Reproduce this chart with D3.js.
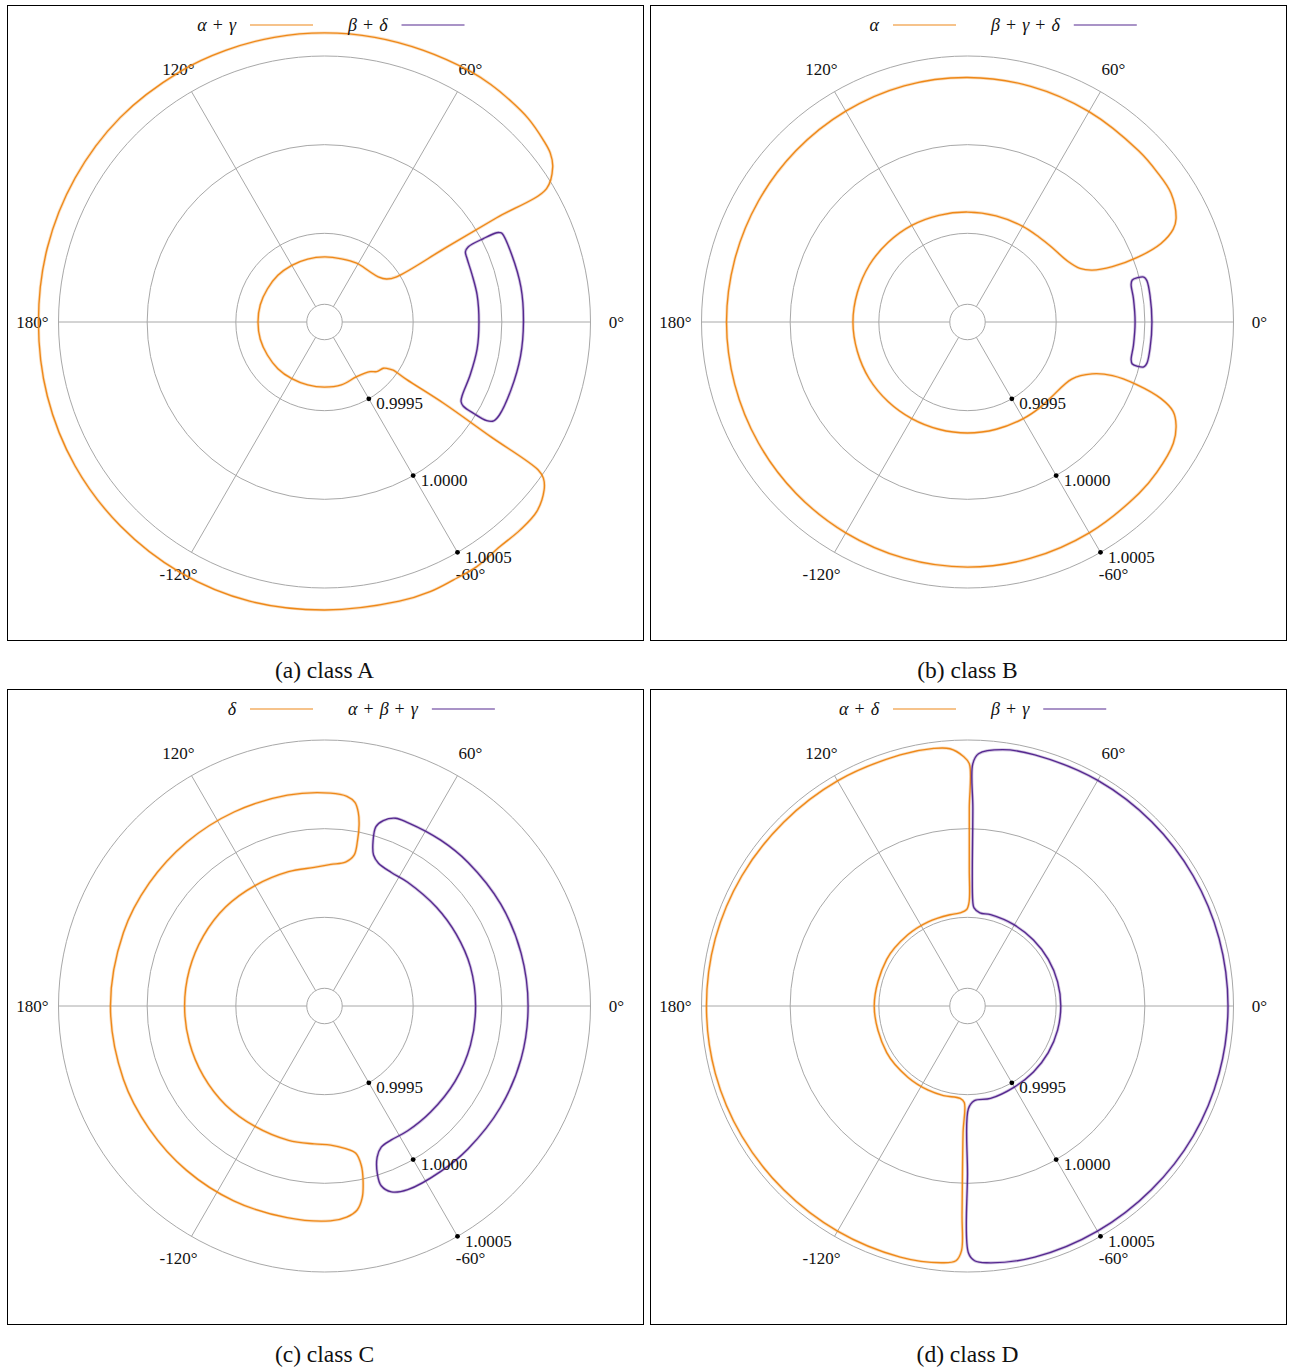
<!DOCTYPE html>
<html>
<head>
<meta charset="utf-8">
<script src="https://cdn.jsdelivr.net/npm/d3@7"></script>
<style>
  body { margin: 0; background: #fff; }
  svg text { font-family: "Liberation Serif", "Times New Roman", serif; fill: #111; }
</style>
</head>
<body>
<svg id="fig" width="1289" height="1367"></svg>
<script>
// ---- axis definitions ----
const angleTicks = [0, 60, 120, 180, -120, -60];
const angleTickLabels = ["0°", "60°", "120°", "180°", "-120°", "-60°"];
const radialGrid = [0.9991, 0.9995, 1.0000, 1.0005];
const radialTicks = [0.9995, 1.0000, 1.0005];
const radialTickLabels = ["0.9995", "1.0000", "1.0005"];
const radialTickAngle = -60;

// ---- panels ----
const panelCaptions = ["(a) class A", "(b) class B", "(c) class C", "(d) class D"];
const legendOrange = ["α + γ", "α", "δ", "α + δ"];
const legendPurple = ["β + δ", "β + γ + δ", "α + β + γ", "β + γ"];

// ---- curves: [angle in degrees, radius value] ----
const classA_alphaGamma = [
  [31.0, 1.000461], [34.2, 1.000556], [36.8, 1.000590], [39.8, 1.000605], [45, 1.000624],
  [50, 1.000630], [55, 1.000635], [60, 1.000635], [70, 1.000630], [80, 1.000630],
  [90, 1.000630], [100, 1.000630], [110, 1.000630], [120, 1.000630], [135, 1.000630],
  [150, 1.000624], [165, 1.000618], [180, 1.000613], [195, 1.000618], [210, 1.000624],
  [225, 1.000627], [240, 1.000630], [255, 1.000630], [270, 1.000624], [285, 1.000630],
  [291.4, 1.000633], [296.5, 1.000626], [301.9, 1.000625], [308, 1.000607], [313.2, 1.000610],
  [318.2, 1.000605], [322.6, 1.000559], [324.5, 1.000516], [325.3, 1.000466],
  [325.4, 1.000138], [325.7, 0.999813], [325.0, 0.999564], [325.1, 0.999489], [324.9, 0.999473],
  [323.3, 0.999437], [321.8, 0.999422], [316.4, 0.999406], [312.5, 0.999380], [300.5, 0.999358],
  [285, 0.999367], [270, 0.999367], [255, 0.999367], [240, 0.999369], [225, 0.999372],
  [210, 0.999372], [195, 0.999375], [180, 0.999375], [165, 0.999375], [150, 0.999372],
  [135, 0.999372], [120, 0.999369], [105, 0.999367], [90, 0.999367], [75, 0.999369],
  [61.3, 0.999378], [47.9, 0.999382], [40.1, 0.999396], [34.7, 0.999426], [32.1, 0.999480],
  [31.5, 0.999808], [31.2, 1.000135]
];
const classA_betaDelta = [
  [26.5, 1.000119], [20, 1.000122], [10, 1.000125], [0, 1.000122], [-10, 1.000122],
  [-20, 1.000119], [-28, 1.000117], [-30.3, 1.000105], [-31.3, 1.000071], [-31.5, 0.999987],
  [-31.2, 0.999914], [-30.2, 0.999891], [-28, 0.999880], [-20, 0.999874], [-10, 0.999874],
  [0, 0.999871], [10, 0.999874], [18, 0.999874], [24, 0.999880], [26.5, 0.999888],
  [27.6, 0.999914], [27.7, 1.000015], [27.4, 1.000094], [27.0, 1.000110]
];
const classB_alpha = [
  [38.4, 1.000363], [32.3, 1.000358], [26.4, 1.000313], [24.3, 1.000273], [22.1, 1.000178],
  [20.8, 1.000021], [20.9, 0.999874], [22.6, 0.999761], [25.5, 0.999702], [31.2, 0.999661],
  [41.8, 0.999635], [50, 0.999626], [60, 0.999623], [75, 0.999620], [90, 0.999620],
  [105, 0.999623], [120, 0.999629], [135, 0.999634], [150, 0.999640], [165, 0.999643],
  [180, 0.999646], [195, 0.999643], [210, 0.999640], [225, 0.999634], [240, 0.999629],
  [255, 0.999626], [270, 0.999626], [285, 0.999626], [300, 0.999629], [310, 0.999632],
  [318.2, 0.999635], [331.3, 0.999670], [337.4, 0.999761], [339.7, 0.999871], [339.7, 1.000017],
  [338.4, 1.000174], [336.5, 1.000264], [333.6, 1.000313], [329.5, 1.000347], [321.6, 1.000363],
  [315, 1.000367], [300, 1.000373], [285, 1.000379], [270, 1.000382], [255, 1.000379],
  [240, 1.000373], [225, 1.000367], [210, 1.000362], [195, 1.000359], [180, 1.000359],
  [165, 1.000359], [150, 1.000362], [135, 1.000367], [120, 1.000373], [105, 1.000379],
  [90, 1.000379], [75, 1.000376], [60, 1.000370], [45, 1.000365]
];
const classB_betaGammaDelta = [
  [13, 1.000038], [8, 1.000040], [0, 1.000040], [-8, 1.000040], [-13, 1.000038],
  [-14.3, 1.000026], [-14.6, 0.999992], [-14.3, 0.999959], [-13, 0.999947], [-8, 0.999945],
  [0, 0.999945], [8, 0.999945], [13, 0.999947], [14.3, 0.999959], [14.6, 0.999992],
  [14.3, 1.000026]
];
const classC_delta = [
  [88.4, 1.000201], [100, 1.000207], [115, 1.000207], [130, 1.000207], [145, 1.000207],
  [160, 1.000207], [180, 1.000207], [200, 1.000207], [215, 1.000207], [230, 1.000210],
  [245, 1.000212], [260, 1.000212], [271.6, 1.000212], [276, 1.000197], [279.1, 1.000165],
  [281.1, 1.000103], [282.4, 1.000014], [283, 0.999923], [282, 0.999849], [278.1, 0.999811],
  [272.5, 0.999785], [265.8, 0.999780], [255, 0.999784], [240, 0.999784], [225, 0.999789],
  [210, 0.999789], [195, 0.999789], [180, 0.999789], [165, 0.999789], [150, 0.999789],
  [135, 0.999789], [120, 0.999784], [105, 0.999784], [94.2, 0.999784], [87.5, 0.999799],
  [81.7, 0.999820], [78.9, 0.999867], [78.7, 0.999949], [79.2, 1.000041], [80.1, 1.000108],
  [81.5, 1.000161], [83.9, 1.000189]
];
const classC_alphaBetaGamma = [
  [69.3, 1.000132], [65.6, 1.000136], [55, 1.000142], [45, 1.000145], [30, 1.000148],
  [15, 1.000148], [0, 1.000148], [-15, 1.000148], [-30, 1.000145], [-45, 1.000142],
  [-55, 1.000140], [-65.6, 1.000137], [-70.2, 1.000114], [-72.5, 1.000063], [-72.5, 0.999990],
  [-70.8, 0.999903], [-68.1, 0.999858], [-63.5, 0.999844], [-56.3, 0.999846], [-45, 0.999846],
  [-30, 0.999850], [-15, 0.999852], [0, 0.999852], [15, 0.999852], [28.6, 0.999846],
  [41.3, 0.999842], [56.1, 0.999841], [63.4, 0.999842], [69.3, 0.999861], [72, 0.999895],
  [73.6, 0.999970], [74, 1.000052], [72.4, 1.000097]
];
const classD_alphaDelta = [
  [89.1, 0.999588], [90.5, 0.999544], [94.6, 0.999527], [100.8, 0.999524], [115, 0.999524],
  [130, 0.999524], [150, 0.999526], [180, 0.999526], [210, 0.999526], [230, 0.999524],
  [245, 0.999524], [255, 0.999523], [265.5, 0.999523], [268.1, 0.999545], [268, 0.999716],
  [268.5, 1.000173], [268.6, 1.000380], [267.4, 1.000438], [264.3, 1.000455], [255, 1.000466],
  [240, 1.000466], [225, 1.000466], [210, 1.000469], [195, 1.000472], [180, 1.000472],
  [165, 1.000472], [150, 1.000469], [135, 1.000466], [120, 1.000466], [105, 1.000466],
  [97.5, 1.000465], [93.9, 1.000454], [91.0, 1.000409], [89.57, 1.000366],
  [89.48, 1.000114], [89.25, 0.999771]
];
const classD_betaGamma = [
  [87.1, 0.999589], [88.45, 1.000115], [88.75, 1.000366], [87.5, 1.000424], [82.2, 1.000459],
  [75, 1.000466], [60, 1.000469], [45, 1.000469], [30, 1.000469], [15, 1.000469],
  [0, 1.000469], [-15, 1.000469], [-30, 1.000469], [-45, 1.000466], [-60, 1.000466],
  [-75, 1.000466], [-85.7, 1.000452], [-88.4, 1.000437], [-89.8, 1.000391], [-90, 0.999945],
  [-89.5, 0.999579], [-85.8, 0.999535], [-76, 0.999537], [-60, 0.999528], [-45, 0.999526],
  [-30, 0.999526], [-15, 0.999526], [0, 0.999526], [15, 0.999526], [30, 0.999526],
  [45, 0.999526], [60, 0.999528], [75.8, 0.999531], [82.4, 0.999530], [86.2, 0.999555]
];

const orangeSeries = [classA_alphaGamma, classB_alpha, classC_delta, classD_alphaDelta];
const purpleSeries = [classA_betaDelta, classB_betaGammaDelta, classC_alphaBetaGamma, classD_betaGamma];

// ---- drawing ----
const ORANGE = "#ee8818";
const PURPLE = "#55288f";
const GRID = "#a8a8a8";

const svg = d3.select("#fig");
const panelW = 636, panelH = 635;
const panelOrigins = [[7, 5], [650, 5], [7, 689], [650, 689]];

const rScale = d3.scaleLinear().domain([0.999, 1.0005]).range([0, 266]);
// math angle (deg, counter-clockwise from +x) -> d3 radial angle (rad, clockwise from up)
const aScale = d3.scaleLinear().domain([0, 90]).range([Math.PI / 2, 0]);

const radialLine = d3.lineRadial()
  .angle(d => aScale(d[0]))
  .radius(d => rScale(d[1]))
  .curve(d3.curveCatmullRomClosed.alpha(0.5));

function polarXY(deg, radius) {
  const t = deg * Math.PI / 180;
  return [radius * Math.cos(t), -radius * Math.sin(t)];
}

// italic symbols joined by upright "+" with math-style spacing
function legendText(sel, label) {
  const parts = label.split(" + ");
  parts.forEach((p, i) => {
    if (i > 0) sel.append("tspan").attr("font-style", "normal").text("\u2004+\u2004");
    sel.append("tspan").attr("font-style", "italic").text(p);
  });
}

panelOrigins.forEach(([px, py], i) => {
  const g = svg.append("g").attr("transform", `translate(${px},${py})`);
  g.append("rect").attr("x", 0.5).attr("y", 0.5).attr("width", panelW).attr("height", panelH)
    .attr("fill", "none").attr("stroke", "#000").attr("stroke-width", 1);

  const cx = 317.5, cy = 317;
  const c = g.append("g").attr("transform", `translate(${cx},${cy})`);

  // grid circles
  c.selectAll("circle.grid").data(radialGrid).join("circle")
    .attr("class", "grid").attr("r", d => rScale(d))
    .attr("fill", "none").attr("stroke", GRID).attr("stroke-width", 1);

  // spokes
  c.selectAll("line.spoke").data(angleTicks).join("line")
    .attr("class", "spoke")
    .attr("x1", d => polarXY(d, rScale(radialGrid[0]))[0])
    .attr("y1", d => polarXY(d, rScale(radialGrid[0]))[1])
    .attr("x2", d => polarXY(d, rScale(radialGrid[radialGrid.length - 1]))[0])
    .attr("y2", d => polarXY(d, rScale(radialGrid[radialGrid.length - 1]))[1])
    .attr("stroke", GRID).attr("stroke-width", 1);

  // angle labels
  c.selectAll("text.alab").data(angleTicks).join("text")
    .attr("class", "alab")
    .attr("x", d => polarXY(d, rScale(1.0005) + 26)[0])
    .attr("y", d => polarXY(d, rScale(1.0005) + 26)[1])
    .attr("text-anchor", "middle").attr("dominant-baseline", "central")
    .attr("font-size", 17)
    .text((d, j) => angleTickLabels[j]);

  // curves (soft halo for the noisy trace, then the trace)
  [[orangeSeries[i], ORANGE], [purpleSeries[i], PURPLE]].forEach(([data, col]) => {
    c.append("path").attr("d", radialLine(data)).attr("fill", "none")
      .attr("stroke", col).attr("stroke-width", 3).attr("stroke-opacity", 0.28)
      .attr("stroke-linejoin", "round");
    c.append("path").attr("d", radialLine(data)).attr("fill", "none")
      .attr("stroke", col).attr("stroke-width", 1.35).attr("stroke-linejoin", "round");
  });

  // radial ticks along the -60 degree spoke
  c.selectAll("circle.rdot").data(radialTicks).join("circle")
    .attr("class", "rdot")
    .attr("cx", d => polarXY(radialTickAngle, rScale(d))[0])
    .attr("cy", d => polarXY(radialTickAngle, rScale(d))[1])
    .attr("r", 2.4).attr("fill", "#000");
  c.selectAll("text.rlab").data(radialTicks).join("text")
    .attr("class", "rlab")
    .attr("x", d => polarXY(radialTickAngle, rScale(d))[0] + 7.5)
    .attr("y", d => polarXY(radialTickAngle, rScale(d))[1] + 10.5)
    .attr("font-size", 17)
    .text((d, j) => radialTickLabels[j]);

  // legend
  const ly = 20;
  const t1 = g.append("text").attr("x", 229).attr("y", ly + 6).attr("text-anchor", "end")
    .attr("font-size", 18);
  legendText(t1, legendOrange[i]);
  g.append("line").attr("x1", 243).attr("x2", 306).attr("y1", ly).attr("y2", ly)
    .attr("stroke", ORANGE).attr("stroke-width", 1.2);
  const t2 = g.append("text").attr("x", 341).attr("y", ly + 6).attr("font-size", 18);
  legendText(t2, legendPurple[i]);
  const w2 = t2.node().getComputedTextLength();
  g.append("line").attr("x1", 341 + w2 + 14).attr("x2", 341 + w2 + 77).attr("y1", ly).attr("y2", ly)
    .attr("stroke", PURPLE).attr("stroke-width", 1.2);

  // caption
  g.append("text").attr("x", cx).attr("y", panelH + 38).attr("text-anchor", "middle")
    .attr("font-size", 23.5).text(panelCaptions[i]);
});
</script>
</body>
</html>
